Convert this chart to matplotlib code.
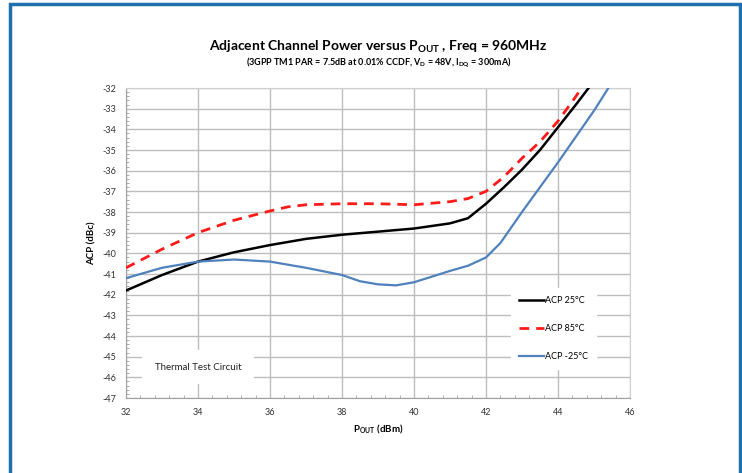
import matplotlib.pyplot as plt
from matplotlib.patches import Rectangle
from matplotlib.ticker import MultipleLocator

plt.rcParams['font.family'] = ['Lato', 'DejaVu Sans']
plt.rcParams['axes.unicode_minus'] = False

# ACP 25C
pout25 = [32, 33, 34, 35, 36, 37, 38, 39, 40, 41, 41.5, 42, 42.5, 43, 43.5, 44, 44.5, 44.85]
acp25 = [-41.8, -41.05, -40.4, -39.95, -39.6, -39.3, -39.1, -38.95, -38.8, -38.55, -38.3,
         -37.6, -36.8, -35.95, -35.0, -33.9, -32.8, -32.0]

# ACP 85C
pout85 = [32, 33, 34, 35, 36, 36.5, 37, 38, 39, 40, 41, 41.5, 42, 42.5, 43, 43.5, 44, 44.5, 44.65]
acp85 = [-40.7, -39.8, -39.0, -38.4, -37.95, -37.75, -37.65, -37.6, -37.6, -37.65, -37.5,
         -37.35, -37.0, -36.3, -35.4, -34.6, -33.6, -32.4, -32.0]

# ACP -25C
poutm25 = [32, 33, 34, 35, 36, 37, 38, 38.5, 39, 39.5, 40, 41, 41.5, 42, 42.4, 43, 43.5, 44, 44.5, 45, 45.4]
acpm25 = [-41.2, -40.7, -40.4, -40.3, -40.4, -40.7, -41.05, -41.35, -41.5, -41.55, -41.4,
          -40.85, -40.6, -40.2, -39.5, -38.0, -36.8, -35.6, -34.35, -33.1, -32.0]

labels = ['ACP 25°C', 'ACP 85°C', 'ACP -25°C']

fig = plt.figure(figsize=(7.42, 4.73), dpi=100)
fig.patch.set_facecolor('white')

# blue frame around the figure, open at the bottom
fig.patches.append(Rectangle((10 / 742, -0.1), 730 / 742, 1.1 - 4 / 473, transform=fig.transFigure,
                             fill=False, edgecolor='#1f6fae', linewidth=2.5))

ax = fig.add_axes([126 / 742, 1 - 398 / 473, 504 / 742, 310 / 473])

ax.plot(pout25, acp25, color='black', lw=1.8, label=labels[0], zorder=3)
ax.plot(pout85, acp85, color='#ff1a1a', lw=2.0, ls=(0, (3.5, 2.5)), label=labels[1], zorder=3)
ax.plot(poutm25, acpm25, color='#4f81bd', lw=1.6, label=labels[2], zorder=3)

ax.set_xlim(32, 46)
ax.set_ylim(-47, -32)
ax.xaxis.set_major_locator(MultipleLocator(2))
ax.xaxis.set_minor_locator(MultipleLocator(0.4))
ax.yaxis.set_major_locator(MultipleLocator(1))
ax.yaxis.set_minor_locator(MultipleLocator(0.2))
ax.grid(True, which='major', color='#bdbdbd', lw=1.0)
ax.set_axisbelow(True)

for s in ax.spines.values():
    s.set_color('#d0d0d0')
    s.set_linewidth(0.8)
ax.spines['left'].set_color('#a0a0a0')
ax.spines['bottom'].set_color('#a0a0a0')

ax.tick_params(which='major', length=0, labelsize=6.5, labelcolor='#333333', pad=7)
ax.tick_params(which='minor', direction='in', length=2, color='#a0a0a0', width=0.6)
ax.tick_params(axis='x', which='minor', top=False)
ax.tick_params(axis='y', which='minor', right=False)

ax.set_xlabel(r'P$_{\mathregular{OUT}}$ (dBm)', fontsize=7, fontweight='bold', labelpad=4)
ax.set_ylabel('ACP (dBc)', fontsize=7, fontweight='bold', labelpad=4)

leg = ax.legend(loc='upper left', bbox_to_anchor=(0.755, 0.37), fontsize=6.5,
                frameon=True, fancybox=False, edgecolor='white', framealpha=1,
                handlelength=2.8, handletextpad=0.1, labelspacing=2.1, borderpad=0.9)

ax.text(32.8, -45.5, 'Thermal Test Circuit', fontsize=7, color='#222222', va='center',
        bbox=dict(facecolor='white', edgecolor='none', pad=9))

fig.text(0.51, 0.894, r'Adjacent Channel Power versus P$_{\mathregular{OUT}}$ , Freq = 960MHz',
         ha='center', fontsize=10, fontweight='bold')
fig.text(0.51, 0.862, r'(3GPP TM1 PAR = 7.5dB at 0.01% CCDF, V$_{\mathregular{D}}$ = 48V, '
         r'I$_{\mathregular{DQ}}$ = 300mA)', ha='center', fontsize=6.5, fontweight='bold')

fig.savefig('out.png', dpi=100)
